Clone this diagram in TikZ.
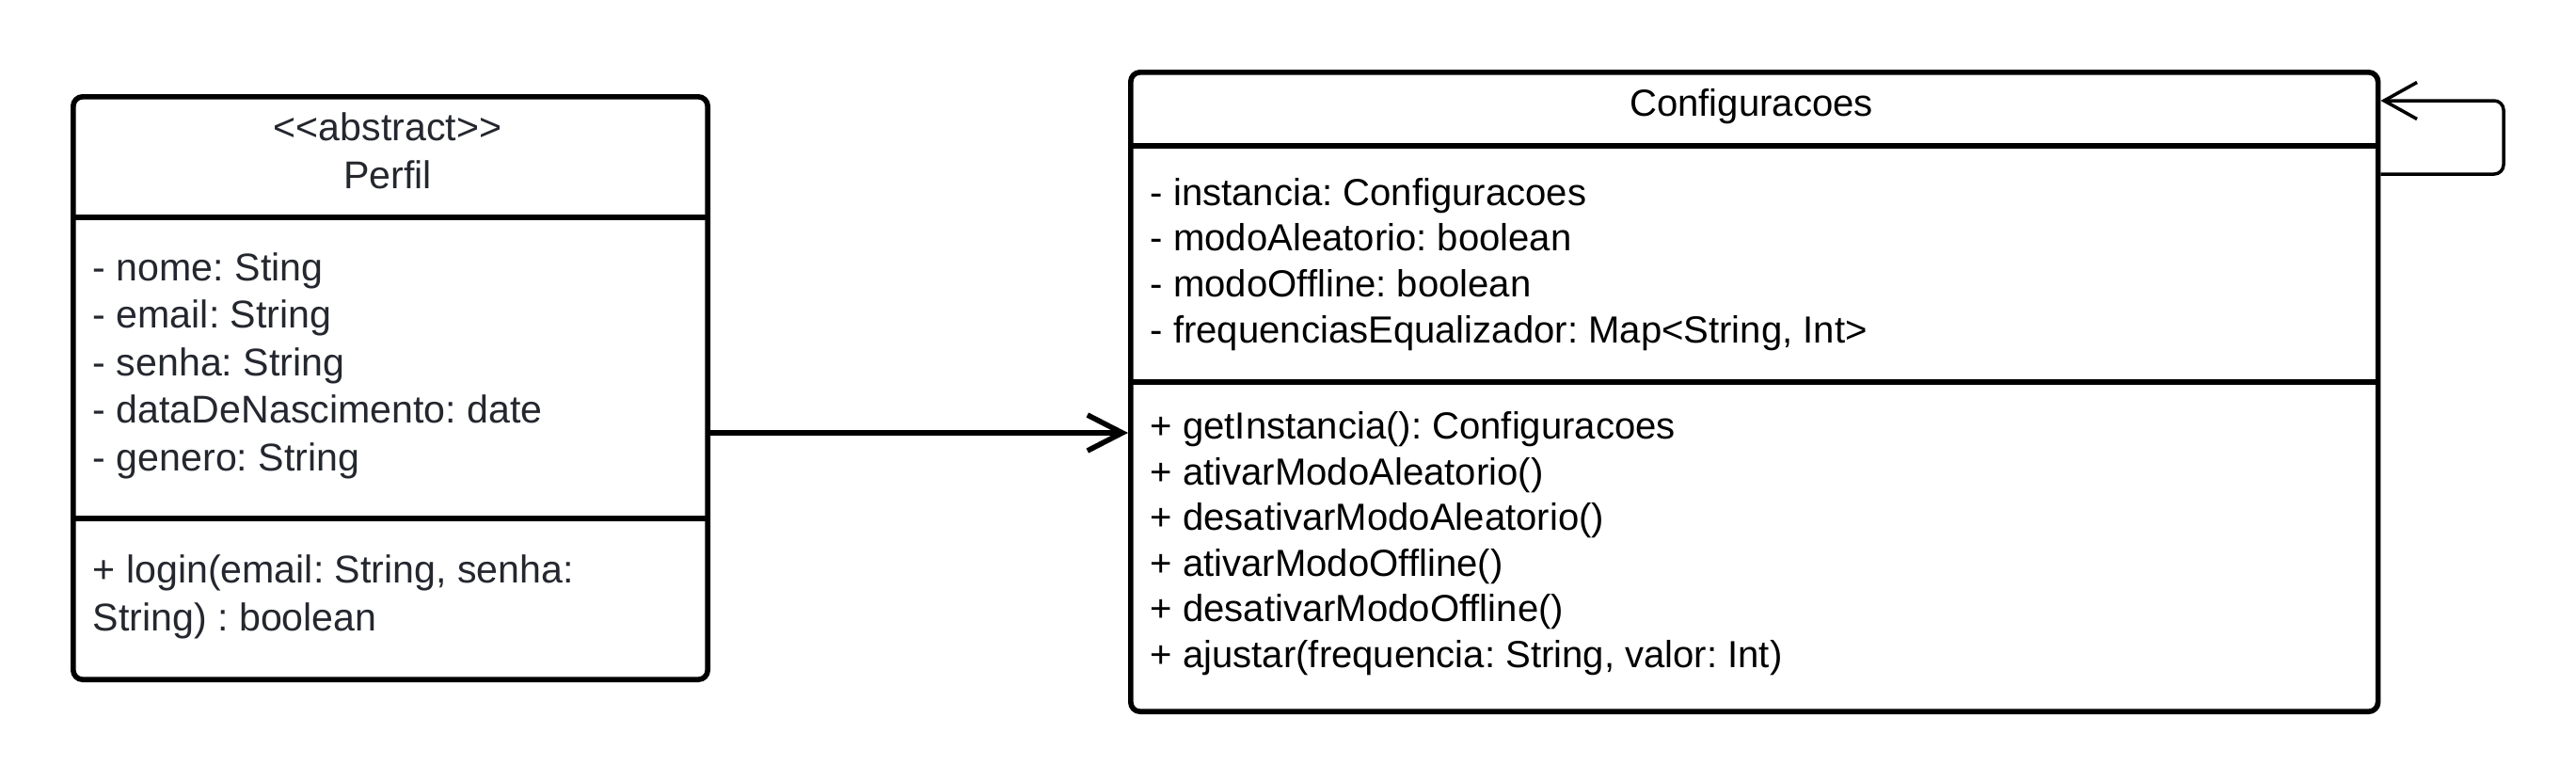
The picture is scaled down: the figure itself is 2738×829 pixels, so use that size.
\documentclass[tikz,border=0pt]{standalone}
\usepackage{fontspec}
\setmainfont{Liberation Sans}
\usetikzlibrary{arrows.meta}
\frenchspacing
\tikzstyle{diagram} = [x = 0.01cm, y = -0.01cm]
\definecolor{perfilTextColor}{RGB}{36,39,46}
\tikzstyle{classBox} = [draw=black, line width=1.6pt, rounded corners = .1cm, inner sep=0pt, anchor=north west]
\tikzstyle{classLine} = [draw=black, line width=1.6pt]
% base anchor of a node with several lines = baseline of its last line
\tikzstyle{perfilText} = [inner sep=0pt, align=left, anchor=base west, text=perfilTextColor, font=\fontsize{11.7}{14.37}\selectfont]
\tikzstyle{perfilTitle} = [perfilText, align=center, anchor=base]
\tikzstyle{configText} = [inner sep=0pt, align=left, anchor=base west, text=black, font=\fontsize{11.4}{13.8}\selectfont]
\tikzstyle{configTitle} = [configText, align=center, anchor=base]
\tikzstyle{assocArrow} = [line width=1.6pt, -{Straight Barb[length=3.7mm, width=3.8mm]}]
\tikzstyle{selfArrow} = [line width=1pt, rounded corners = .1cm, -{Straight Barb[length=3.5mm, width=3.9mm]}]
\newcommand{\classDivider}[2]{\draw [classLine] (#1.west |- 0,#2) -- (#1.east |- 0,#2);}
\begin{document}
\begin{tikzpicture}[diagram]
  \useasboundingbox (0,0) rectangle (2738,829);

  % class boxes
  \node [classBox, minimum width=6.74cm, minimum height=6.19cm] (perfil) at (75,100) {};
  \node [classBox, minimum width=13.25cm, minimum height=6.79cm] (config) at (1199,74) {};
  \classDivider{perfil}{231}
  \classDivider{perfil}{551}
  \classDivider{config}{155}
  \classDivider{config}{406}

  % Perfil
  \node [perfilTitle] (perfilName) at (412,200) {<\kern0pt<abstract>\kern0pt>\\Perfil};
  \node [perfilText] (perfilAttrs) at (98,500.5) {- nome: Sting\\- email: String\\- senha: String\\- dataDeNascimento: date\\- genero: String};
  \node [perfilText] (perfilOps) at (98,670) {+ login(email: String, senha:\\String) : boolean};

  % Configuracoes
  \node [configTitle] (configName) at (1861.5,123) {Configuracoes};
  \node [configText] (configAttrs) at (1222,364) {- instancia: Configuracoes\\- modoAleatorio: boolean\\- modoOffline: boolean\\- frequenciasEqualizador: Map<String, Int>};
  \node [configText] (configOps) at (1222,709.5) {+ getInstancia(): Configuracoes\\+ ativarModoAleatorio()\\+ desativarModoAleatorio()\\+ ativarModoOffline()\\+ desativarModoOffline()\\+ ajustar(frequencia: String, valor: Int)};

  % connectors
  \draw [assocArrow] (perfil.east |- 0,460) -- (config.west |- 0,460);
  \draw [selfArrow] (config.east |- 0,185) -- (2661,185) -- (2661,107) -- (config.east |- 0,107);
\end{tikzpicture}
\end{document}
